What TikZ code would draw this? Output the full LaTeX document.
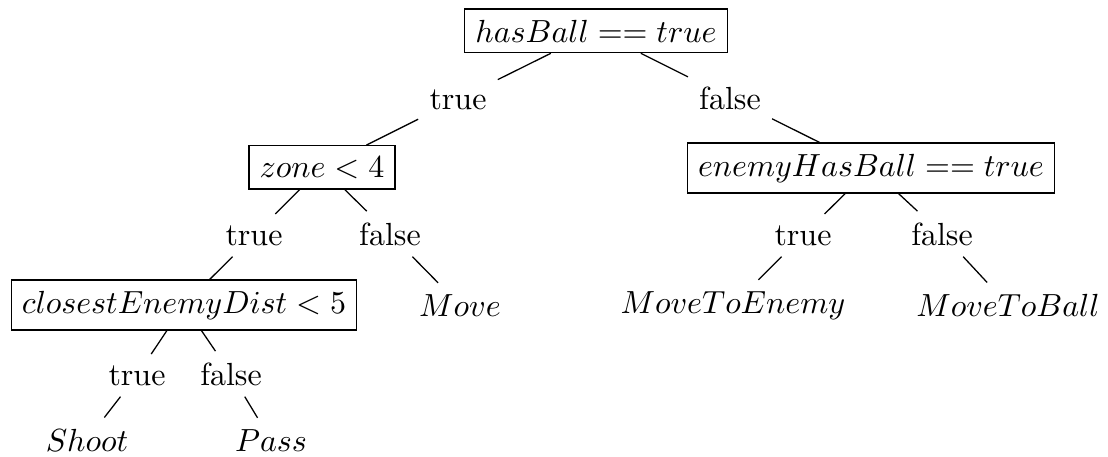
\documentclass[tikz,border=0pt]{standalone}
\usepackage{tikz}

\begin{document}
\begin{tikzpicture}[x=0.3125pt,y=-0.3125pt,
 test/.style={draw,anchor=base},
 lbl/.style={anchor=base},
 act/.style={anchor=base},
 edge/.style={draw,thin}]
\useasboundingbox (0,0) rectangle (1108,456);
\node[test] (hasball) at (596,42) {$hasBall == true$};
\node[lbl] (t1) at (458,109) {true};
\node[lbl] (f1) at (730,109) {false};
\node[test] (zone) at (322,177) {$zone < 4$};
\node[test] (enemyball) at (871,176) {$enemyHasBall == true$};
\node[lbl] (t2) at (254,245) {true};
\node[lbl] (f2) at (390,245) {false};
\node[lbl] (t3) at (803,245) {true};
\node[lbl] (f3) at (942,245) {false};
\node[test] (dist) at (184,313) {$closestEnemyDist < 5$};
\node[act] (move) at (460,316) {$Move$};
\node[act] (toenemy) at (733,313) {$MoveToEnemy$};
\node[act] (toball) at (1008,316) {$MoveToBall$};
\node[lbl] (t4) at (137,385) {true};
\node[lbl] (f4) at (231,385) {false};
\node[act] (shoot) at (87,451) {$Shoot$};
\node[act] (pass) at (271,451) {$Pass$};
\draw[edge] (hasball)--(t1); \draw[edge] (t1)--(zone); \draw[edge] (hasball)--(f1); \draw[edge] (f1)--(enemyball);
\draw[edge] (zone)--(t2); \draw[edge] (t2)--(dist); \draw[edge] (zone)--(f2); \draw[edge] (f2)--(move);
\draw[edge] (enemyball)--(t3); \draw[edge] (t3)--(toenemy); \draw[edge] (enemyball)--(f3); \draw[edge] (f3)--(toball);
\draw[edge] (dist)--(t4); \draw[edge] (t4)--(shoot); \draw[edge] (dist)--(f4); \draw[edge] (f4)--(pass);
\end{tikzpicture}
\end{document}
